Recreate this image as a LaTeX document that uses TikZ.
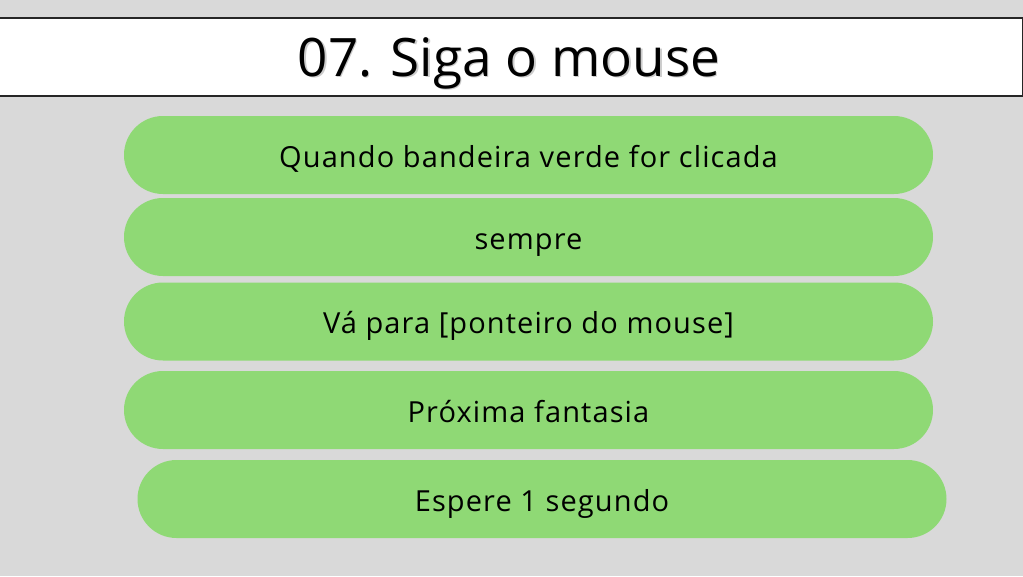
\documentclass[tikz,border=0pt]{standalone}
\usepackage{fontspec}
\setmainfont{Open Sans}
\newfontfamily\bodyfont[LetterSpace=3.8]{Open Sans}
\definecolor{bg}{HTML}{D9D9D9}
\definecolor{pill}{HTML}{8FD975}
\begin{document}
\begin{tikzpicture}[x=1pt,y=-1pt,
  pillbox/.style={fill=pill, draw=none, rounded corners=39pt, minimum width=809pt, minimum height=78pt, inner sep=0pt},
  pilltext/.style={anchor=base, inner sep=0pt, font=\bodyfont\fontsize{29}{32}\selectfont, text=black},
  titlebox/.style={fill=white, draw=black!85, line width=1.3pt, minimum width=1026pt, minimum height=78pt, inner sep=0pt},
  titletext/.style={anchor=base, inner sep=0pt, font=\fontsize{53}{58}\selectfont}]
\fill[bg] (0,0) rectangle (1023,576);
\useasboundingbox (0,0) rectangle (1023,576);
\node[titlebox] (title) at (509.5,57) {};
\node[titletext, text=black!20] at (510.5,77.5) {07. Siga o mouse};
\node[titletext] (tt) at (509,76) {07. Siga o mouse};
\node[pillbox] (b1) at (528.5,155) {};
\node[pillbox] (b2) at (528.5,237) {};
\node[pillbox] (b3) at (528.5,321.5) {};
\node[pillbox] (b4) at (528.5,410) {};
\node[pillbox] (b5) at (542,499) {};
\node[pilltext] (t1) at ([yshift=-12pt]b1.center) {Quando bandeira verde for clicada};
\node[pilltext] (t2) at ([yshift=-12pt]b2.center) {sempre};
\node[pilltext] (t3) at ([yshift=-12pt]b3.center) {Vá para [ponteiro do mouse]};
\node[pilltext] (t4) at ([yshift=-12pt]b4.center) {Próxima fantasia};
\node[pilltext] (t5) at ([yshift=-12pt]b5.center) {Espere 1 segundo};
\end{tikzpicture}
\end{document}
